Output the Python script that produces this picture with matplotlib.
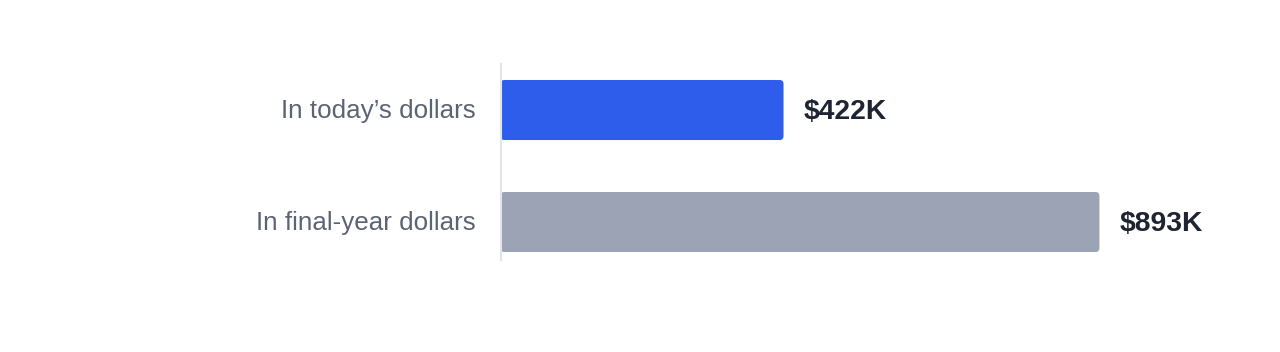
import matplotlib.pyplot as plt
from matplotlib.patches import FancyBboxPatch

# Данные графика
categories = ["In today\u2019s dollars", "In final-year dollars"]
values = [422, 893]          # тысячи долларов
value_labels = ["$422K", "$893K"]
colors = ["#2F5DEB", "#9CA3B4"]

plt.rcParams['font.family'] = ['Liberation Sans', 'DejaVu Sans']

fig = plt.figure(figsize=(12.8, 3.52), dpi=100)
# оси: слева x=500px, сверху y=64px, снизу y=260px
ax = fig.add_axes([500.5 / 1280, 92 / 352, 680 / 1280, 196 / 352])

bar_h = 0.536
bars = ax.barh(range(len(values)), values, height=bar_h, color=colors)

ax.set_xlim(0, 680 / 0.6707)
ax.set_ylim(1 + 38 / 112, -46 / 112)

# скруглённые углы: заменяем прямоугольники на FancyBboxPatch
r_x = 6.0
for b in bars:
    x, y = b.get_x(), b.get_y()
    w, h = b.get_width(), b.get_height()
    p = FancyBboxPatch((x, y), w, h,
                       boxstyle=f"round,pad=0,rounding_size={r_x}",
                       mutation_aspect=0.0357 / r_x,
                       facecolor=b.get_facecolor(), edgecolor='none')
    b.set_visible(False)
    ax.add_patch(p)

# подписи значений справа от столбцов
for i, (v, lab) in enumerate(zip(values, value_labels)):
    ax.annotate(lab, (v, i), xytext=(20, -2), textcoords='offset pixels',
                ha='left', va='center', fontsize=20.3, fontweight='bold',
                color='#1F2433')

# подписи категорий слева от оси
ax.set_yticks([])
for i, cat in enumerate(categories):
    ax.annotate(cat, (0, i), xytext=(-25, -1), textcoords='offset pixels',
                ha='right', va='center', fontsize=18.7, color='#5B6475',
                annotation_clip=False)
ax.set_xticks([])

for s in ['top', 'right', 'bottom']:
    ax.spines[s].set_visible(False)
ax.spines['left'].set_color('#E3E5EA')
ax.spines['left'].set_linewidth(1.5)

fig.savefig('out.png', dpi=100)
